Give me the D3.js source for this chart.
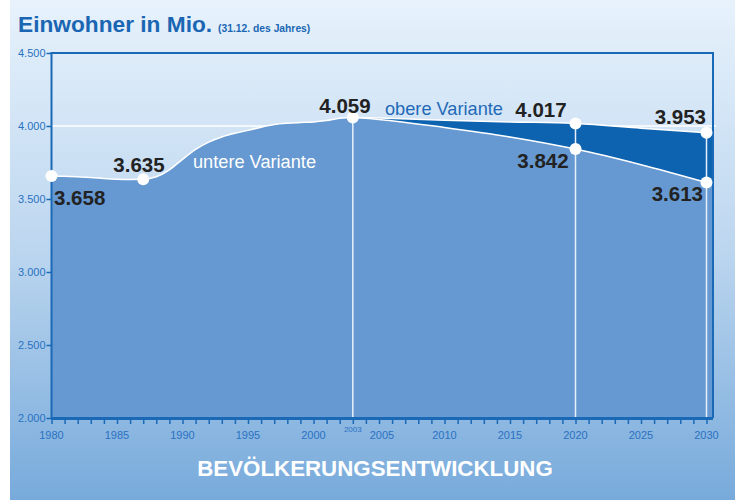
<!DOCTYPE html>
<html>
<head>
<meta charset="utf-8">
<script src="https://cdn.jsdelivr.net/npm/d3@7"></script>
<style>
  html, body { margin: 0; padding: 0; background: #fff; }
  svg { display: block; font-family: "Liberation Sans", Arial, sans-serif; }
</style>
</head>
<body>
<svg id="chart" width="739" height="500"></svg>
<script>
// Bevölkerung in Mio. (31.12. des Jahres)
const histYears = [1980, 1981, 1982, 1983, 1984, 1985, 1986, 1987, 1988, 1989, 1990, 1991,
  1992, 1993, 1994, 1995, 1996, 1997, 1998, 1999, 2000, 2001, 2002, 2003];
const histValues = [3.658, 3.655, 3.652, 3.648, 3.641, 3.636, 3.634, 3.635, 3.652, 3.700, 3.772, 3.840,
  3.890, 3.925, 3.950, 3.970, 3.992, 4.010, 4.019, 4.024, 4.028, 4.038, 4.053, 4.059];

const progYears = [2003, 2005, 2010, 2015, 2020, 2025, 2030];
const upperValues = [4.059, 4.055, 4.040, 4.028, 4.017, 3.985, 3.953];   // obere Variante
const lowerValues = [4.059, 4.045, 3.990, 3.925, 3.842, 3.735, 3.613];   // untere Variante

const yTicks = [2.0, 2.5, 3.0, 3.5, 4.0, 4.5];
const xLabelYears = [1980, 1985, 1990, 1995, 2000, 2005, 2010, 2015, 2020, 2025, 2030];
const markYears = [2003, 2020, 2030];

const svg = d3.select("#chart");

// Hintergrund mit Verlauf
const defs = svg.append("defs");
const grad = defs.append("linearGradient")
    .attr("id", "bg")
    .attr("x1", 0).attr("y1", 0).attr("x2", 0).attr("y2", 1);
grad.append("stop").attr("offset", "0%").attr("stop-color", "#e7f2fc");
grad.append("stop").attr("offset", "50%").attr("stop-color", "#bcd6ef");
grad.append("stop").attr("offset", "100%").attr("stop-color", "#77aadb");

svg.append("rect")
    .attr("x", 10).attr("y", 0)
    .attr("width", 725).attr("height", 500)
    .attr("fill", "url(#bg)");

const x = d3.scaleLinear().domain([1980, 2030]).range([51.5, 706.5]);
const y = d3.scaleLinear().domain([2.0, 4.5]).range([418, 53]);
const frameRight = 713;
const fmt = d3.format(".3f");

const lower = histYears.map((yr, i) => ({ year: yr, v: histValues[i] }))
    .concat(progYears.slice(1).map((yr, i) => ({ year: yr, v: lowerValues[i + 1] })));
const band = progYears.map((yr, i) => ({ year: yr, lo: lowerValues[i], hi: upperValues[i] }));

// weiße Hilfslinie bei 4.000
svg.append("line")
    .attr("x1", 51).attr("x2", 716)
    .attr("y1", y(4.0)).attr("y2", y(4.0))
    .attr("stroke", "#fff").attr("stroke-width", 1.5);

const curve = d3.curveMonotoneX;

// dunkles Band zwischen den Varianten (bis zum Rahmen verlängert)
const bandArea = d3.area()
    .x(d => d.x).y0(d => d.y0).y1(d => d.y1).curve(curve);
const bandPts = band.map(d => ({ x: x(d.year), y0: y(d.lo), y1: y(d.hi) }));
const lastB = bandPts[bandPts.length - 1];
svg.append("path")
    .attr("d", bandArea(bandPts))
    .attr("fill", "#0e63b0");
svg.append("rect")
    .attr("x", lastB.x).attr("y", lastB.y1)
    .attr("width", frameRight - lastB.x).attr("height", lastB.y0 - lastB.y1 + 2)
    .attr("fill", "#0e63b0");

// Fläche untere Variante
const lowerArea = d3.area()
    .x(d => x(d.year)).y0(y(2.0)).y1(d => y(d.v)).curve(curve);
svg.append("path")
    .attr("d", lowerArea(lower))
    .attr("fill", "#6699d1");
const lastL = lower[lower.length - 1];
svg.append("rect")
    .attr("x", x(lastL.year)).attr("y", y(lastL.v) + 1)
    .attr("width", frameRight - x(lastL.year)).attr("height", y(2.0) - y(lastL.v) - 1)
    .attr("fill", "#6699d1");

// weiße Konturlinien
const line = d3.line().x(d => x(d.year)).y(d => y(d.v)).curve(curve);
svg.append("path")
    .attr("d", line(lower))
    .attr("fill", "none").attr("stroke", "#fff").attr("stroke-width", 1.5);
svg.append("path")
    .attr("d", line(progYears.map((yr, i) => ({ year: yr, v: upperValues[i] }))))
    .attr("fill", "none").attr("stroke", "#fff").attr("stroke-width", 1.5);

// senkrechte Markierungslinien
svg.selectAll(".vline")
    .data(markYears)
    .enter().append("line")
    .attr("class", "vline")
    .attr("x1", d => x(d)).attr("x2", d => x(d))
    .attr("y1", d => y(upperValues[progYears.indexOf(d)]))
    .attr("y2", y(2.0))
    .attr("stroke", "#e6f0fa").attr("stroke-width", 1.5);

// Rahmen
svg.append("path")
    .attr("d", `M${x(1980)},${y(2.0)}V${y(4.5)}H${frameRight}V${y(2.0)}`)
    .attr("fill", "none").attr("stroke", "#1a69b6").attr("stroke-width", 2);

// y-Achse
const yAxis = svg.append("g")
    .attr("transform", `translate(${x(1980)},0)`)
    .call(d3.axisLeft(y).tickValues(yTicks).tickFormat(fmt).tickSize(5).tickPadding(1));
yAxis.select(".domain").remove();
yAxis.selectAll("line").attr("stroke", "#1a69b6").attr("stroke-width", 1.5);
yAxis.selectAll("text")
    .attr("fill", "#2a72c2").style("font-size", "11px").attr("font-family", null);

// x-Achse mit Jahres-Ticks
const xAxis = svg.append("g")
    .attr("transform", `translate(0,${y(2.0)})`)
    .call(d3.axisBottom(x).tickValues(d3.range(1980, 2031)).tickSize(6).tickFormat(""));
xAxis.select(".domain").remove();
xAxis.selectAll("line").attr("stroke", "#1a69b6").attr("stroke-width", 1.5);
svg.append("line")
    .attr("x1", x(1980)).attr("x2", frameRight)
    .attr("y1", y(2.0) + 0.5).attr("y2", y(2.0) + 0.5)
    .attr("stroke", "#1a69b6").attr("stroke-width", 3);

svg.selectAll(".xlab")
    .data(xLabelYears)
    .enter().append("text")
    .attr("class", "xlab")
    .attr("x", d => x(d) + (d === 2005 ? 3 : 0))
    .attr("y", 439)
    .attr("text-anchor", "middle")
    .attr("fill", "#2a72c2")
    .style("font-size", "11px")
    .text(d => d);
svg.append("text")
    .attr("x", x(2003)).attr("y", 432)
    .attr("text-anchor", "middle")
    .attr("fill", "#2a72c2")
    .style("font-size", "8px")
    .text("2003");

// Punkte
const dots = [
  { year: 1980, v: histValues[0] },
  { year: 1987, v: histValues[histYears.indexOf(1987)] },
  { year: 2003, v: upperValues[0] },
  { year: 2020, v: upperValues[4] },
  { year: 2020, v: lowerValues[4] },
  { year: 2030, v: upperValues[6] },
  { year: 2030, v: lowerValues[6] }
];
svg.selectAll(".dot")
    .data(dots)
    .enter().append("circle")
    .attr("class", "dot")
    .attr("cx", d => x(d.year)).attr("cy", d => y(d.v))
    .attr("r", 6)
    .attr("fill", "#fff");

// Wertbeschriftungen
const valueLabels = [
  { v: histValues[0], x: 54, y: 205, anchor: "start" },
  { v: 3.635, x: 139, y: 172, anchor: "middle" },
  { v: upperValues[0], x: 345, y: 113, anchor: "middle" },
  { v: upperValues[4], x: 541, y: 117, anchor: "middle" },
  { v: lowerValues[4], x: 543, y: 168, anchor: "middle" },
  { v: upperValues[6], x: 706, y: 124, anchor: "end" },
  { v: lowerValues[6], x: 703, y: 201, anchor: "end" }
];
svg.selectAll(".vlab")
    .data(valueLabels)
    .enter().append("text")
    .attr("class", "vlab")
    .attr("x", d => d.x).attr("y", d => d.y)
    .attr("text-anchor", d => d.anchor)
    .attr("fill", "#222")
    .style("font-size", "20.5px").style("font-weight", "bold")
    .text(d => fmt(d.v));

svg.append("text")
    .attr("x", 385).attr("y", 115)
    .attr("fill", "#1f6ab8")
    .style("font-size", "18.2px")
    .text("obere Variante");
svg.append("text")
    .attr("x", 193).attr("y", 168)
    .attr("fill", "#fff")
    .style("font-size", "18.2px")
    .text("untere Variante");

// Titel
const title = svg.append("text")
    .attr("x", 18).attr("y", 32)
    .attr("fill", "#1a66b3")
    .style("font-weight", "bold");
title.append("tspan").style("font-size", "22.7px").text("Einwohner in Mio.");
title.append("tspan").attr("dx", 6).style("font-size", "10.3px").text("(31.12. des Jahres)");

svg.append("text")
    .attr("x", 375).attr("y", 476)
    .attr("text-anchor", "middle")
    .attr("fill", "#fff")
    .style("font-size", "22.3px").style("font-weight", "bold")
    .text("BEVÖLKERUNGSENTWICKLUNG");
</script>
</body>
</html>
